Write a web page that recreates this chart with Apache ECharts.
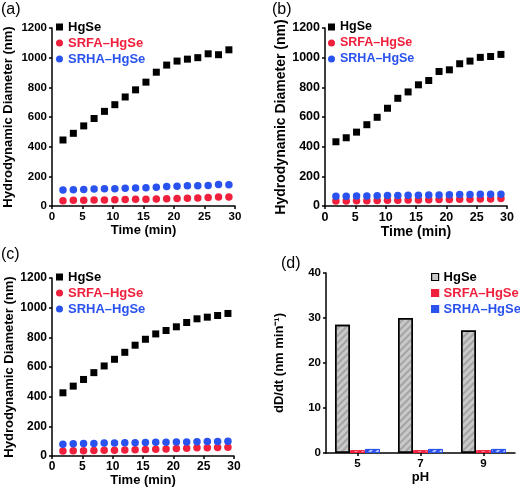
<!DOCTYPE html>
<html><head><meta charset="utf-8">
<script src="https://cdn.jsdelivr.net/npm/echarts@6/dist/echarts.min.js"></script>
<style>html,body{margin:0;padding:0;background:#fff}#c{width:520px;height:490px}#err{position:absolute;left:0;top:0;font:10px monospace;color:#c00;white-space:pre-wrap;width:520px}</style>
</head><body><div id="c"></div><div id="err"></div>
<script>
const errBox = document.getElementById('err');
const origErr = console.error;
console.error = function(){ errBox.textContent += Array.from(arguments).join(' ') + '\n'; origErr.apply(console, arguments); };
window.onerror = function(m){ errBox.textContent += 'ERR ' + m + '\n'; };
// ---- data ----
const time = [1.8,3.5,5.2,6.9,8.6,10.3,12.0,13.7,15.4,17.1,18.8,20.5,22.2,23.9,25.6,27.3,29.0];
const hgseA = [445,490,540,590,638,683,735,783,835,902,950,977,990,1000,1026,1020,1053];
const srfaA = [36,38,39,40,41,42,44,45,46,47,49,51,52,54,57,60,60];
const srhaA = [108,110,112,114,116,117,119,121,123,127,131,133,136,137,139,145,144];
const hgseB = [433,460,498,548,598,659,726,769,817,846,907,918,959,977,1002,1008,1022];
const srfaB = [33,34,35,36,37,38,39,40,41,42,43,44,46,46,47,48,50];
const srhaB = [65,66,67,68,69,70,71,72,73,74,75,76,77,78,80,79,80];
const hgseC = [426,471,516,562,607,652,699,747,787,823,846,871,900,925,936,947,961];
const srfaC = [34,35,36,37,38,39,40,42,44,46,48,50,53,55,56,58,59];
const srhaC = [79,82,84,85,87,88,89,90,91,92,93,94,95,96,97,97,99];
const phCats = ['5','7','9'];
const rateHgSe = [28.5,30.0,27.2];
const rateSRFA = [0.6,0.6,0.6];
const rateSRHA = [0.9,0.9,0.9];
const seriesNames = ['HgSe','SRFA\u2013HgSe','SRHA\u2013HgSe'];
const panelLabels = ['(a)','(b)','(c)','(d)'];

// ---- style ----
const FONT = '"Liberation Sans", Arial, Helvetica, sans-serif';
const RED = '#f0203c', BLUE = '#2a52ee', BLACK = '#000';
const zip = (xs, ys) => xs.map((x, i) => [x, ys[i]]);

const grids = [
  {left: 52, top: 28, width: 183, height: 178},
  {left: 325, top: 28, width: 182, height: 178},
  {left: 52, top: 278, width: 182, height: 178},
  {left: 326, top: 273, width: 189, height: 180}
];
const tickFs = [11.5, 12.5, 12, 11.5];
const nameFs = [13, 14, 13, 13];
const yGap = [37, 35, 33, 40];

function axisCommon(i) {
  return {
    gridIndex: i,
    axisLine: {show: true, onZero: false, lineStyle: {color: BLACK, width: 1.5}},
    axisTick: {show: true, length: 3, lineStyle: {color: BLACK, width: 1.5}},
    splitLine: {show: false},
    axisLabel: {color: BLACK, fontWeight: 'bold', fontSize: tickFs[i], margin: 5,
      formatter: v => String(v)},
    nameLocation: 'middle',
    nameTextStyle: {color: BLACK, fontWeight: 'bold', fontSize: nameFs[i]}
  };
}

const xAxes = [], yAxes = [];
for (let i = 0; i < 3; i++) {
  const xa = axisCommon(i);
  Object.assign(xa, {type: 'value', min: 0, max: 30, interval: 5, name: 'Time (min)', nameGap: 18});
  xAxes.push(xa);
  const ya = axisCommon(i);
  Object.assign(ya, {type: 'value', min: 0, max: 1200, interval: 200, name: 'Hydrodynamic Diameter (nm)', nameGap: yGap[i]});
  yAxes.push(ya);
}
{
  const xa = axisCommon(3);
  Object.assign(xa, {type: 'category', data: phCats, name: 'pH', nameGap: 16});
  xa.axisTick = {show: true, length: 3, alignWithLabel: true, lineStyle: {color: BLACK, width: 1.5}};
  xAxes.push(xa);
  const ya = axisCommon(3);
  Object.assign(ya, {type: 'value', min: 0, max: 40, interval: 10, nameGap: yGap[3],
    name: 'dD/dt (nm min\u207B\u00B9)'});
  yAxes.push(ya);
}

const scatterData = [[hgseA, srfaA, srhaA],[hgseB, srfaB, srhaB],[hgseC, srfaC, srhaC]];
const series = [];
const colors = [BLACK, RED, BLUE];
for (let i = 0; i < 3; i++) {
  for (let k = 0; k < 3; k++) {
    series.push({
      type: 'scatter', name: seriesNames[k], xAxisIndex: i, yAxisIndex: i,
      symbol: k === 0 ? 'rect' : 'circle', symbolSize: k === 0 ? 7 : 7.5,
      itemStyle: {color: colors[k], opacity: 1},
      data: zip(time, scatterData[i][k])
    });
  }
}
const barVals = [rateHgSe, rateSRFA, rateSRHA];
const barFill = ['#c9c9c9', RED, BLUE];
const decalColor = ['rgba(120,120,120,0.45)', 'rgba(255,255,255,0.7)', 'rgba(255,255,255,0.7)'];
for (let k = 0; k < 3; k++) {
  series.push({
    type: 'bar', name: seriesNames[k], xAxisIndex: 3, yAxisIndex: 3,
    barWidth: 15, barGap: '0%',
    itemStyle: {color: barFill[k], borderColor: colors[k], borderWidth: k === 0 ? 1.5 : 1,
      decal: {symbol: 'rect', symbolSize: 1, dashArrayX: [1, 0], dashArrayY: [1.5, 2.5], rotation: -Math.PI / 4, color: decalColor[k]}},
    data: barVals[k]
  });
}

function legend(left, top, fs, icons, bars) {
  return {
    orient: 'vertical', left: left, top: top, itemWidth: 7, itemHeight: 7, itemGap: 1,
    padding: 0, selectedMode: false,
    textStyle: {fontWeight: 'bold', fontSize: fs, lineHeight: 15},
    data: seriesNames.map((n, k) => ({
      name: n, icon: icons[k],
      itemStyle: bars ? {color: barFill[k], borderColor: colors[k], borderWidth: 1.2} : {color: colors[k], borderWidth: 0},
      textStyle: {color: colors[k], fontWeight: 'bold', fontSize: fs}
    }))
  };
}
const sc = ['rect', 'circle', 'circle'];
const legends = [
  legend(56, 19.5, 13, sc, false),
  legend(328, 19.5, 12.5, sc, false),
  legend(56, 269.5, 13, sc, false),
  legend(431, 269.5, 13, ['rect','rect','rect'], true)
];

const labelPos = [[1, 2], [272, 2], [1, 247], [281, 256]];
const titles = panelLabels.map((t, i) => ({
  text: t, left: labelPos[i][0], top: labelPos[i][1], padding: 0,
  textStyle: {fontWeight: 'normal', fontSize: 16, color: BLACK}
}));

try {
  const chart = echarts.init(document.getElementById('c'), null, {renderer: 'canvas'});
  chart.setOption({
    animation: false,
    title: titles,
    grid: grids,
    xAxis: xAxes,
    yAxis: yAxes,
    legend: legends,
    series: series
  });
} catch (e) { errBox.textContent += 'CAUGHT ' + e.message + '\n'; }
</script></body></html>
